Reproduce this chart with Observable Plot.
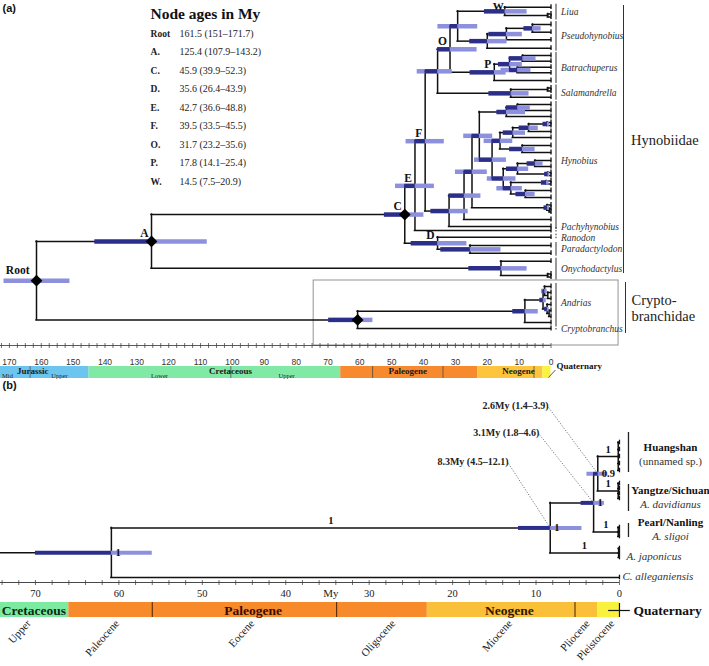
<!DOCTYPE html>
<html><head><meta charset="utf-8">
<script src="https://cdn.jsdelivr.net/npm/d3@7"></script>
<script src="https://cdn.jsdelivr.net/npm/@observablehq/plot@0.6"></script>
<style>
html,body{margin:0;padding:0;background:#fff;}
#chart svg{display:block;}
</style></head><body><div id="chart"></div>
<script>
// ================= DATA : panel (a) =================
const nodeIdA = ["Root","A","Cr","C","On","Oc","E","D","D2","F","N1","O","Nt","W","Lc","Ps","Ps1","Ps2","P","B1","B2","B3","Sal","Sc","H0","H1","H2","E3","E3b","H3","HA","HA1","HB","HC","HC1","HC2","HC3","HC4","HD","HD1","HD2","HD3","HD4","HD5","HD6","J","K","L","L2","N","N2"];
const nodeParentA = [null,"Root","Root","A","A","On","C","C","D","E","F","N1","O","Nt","W","Nt","Ps","Ps1","O","P","B1","B1","N1","Sal","F","H0","H1","H2","E3","H2","H3","HA","H3","HB","HC","HC1","HC2","HC","HB","HD","HD1","HD1","HD","HD4","HD4","Cr","J","K","L","K","N"];
const nodeAgeA = [161.5,125.4,60.7,45.9,15.7,1.0,42.7,35.6,25.4,39.5,35.6,31.7,29.3,14.5,1.0,20,14,5.8,17.8,13,8.9,10.5,12.6,1.0,32,27.3,24.8,1.2,0.5,22.5,14,10.5,18.5,16,12,7,1.2,9,15,10.5,5,1,12.6,1.5,8,8.2,2.5,2,1,1.2,0.6];
const nodeLoA = [151,107.9,55.9,39.9,7.5,null,36.6,26.4,15.7,33.5,31,23.2,23,7.5,null,13.8,9,3.1,14.1,9,4.7,6.3,6.9,null,26,22,20,0.5,null,18.3,8,6.5,14,12,8,4,0.5,5,11,7,2.5,0.4,9,0.6,5,4,1.5,1.2,null,0.6,null];
const nodeHiA = [171.7,143.2,69.8,52.3,25.8,null,48.8,43.9,34.6,45.5,42,35.6,35.5,20.9,null,25.5,19.5,8.5,25.4,16.5,13.2,15.7,19.5,null,37.7,32,30,2.2,null,27.4,17,14,24,21,15,10,2.5,13,20,14,7.5,2,17,3,11,12,3.5,3,null,2,null];
// tips: parent node and leaf position (top to bottom)
const tipParentA = ["W","Lc","Lc","Ps2","Ps2","Ps1","Ps","B2","B2","B3","B3","P","Sc","Sc","Sal","HA1","HA1","HA","HC3","HC3","HC2","HC1","HC4","HC4","HD2","HD2","HD3","HD3","HD5","HD5","HD6","HD6","E3","E3b","E3b","H1","H0","E","D","D2","D2","On","Oc","Oc","L","L2","L2","N","N2","N2","J","Cr"];
const tipPosA = [6.7,13.5,16.5,24,31.7,39.3,47.7,55,60.7,66.7,72.3,80,87.5,90.5,96.7,104,110,116,122,125,131,137,145,152,160,166,172,175,180.5,183.5,190,197,204.5,208,211.5,219,226,230,236.7,245,252.7,260.7,273.5,276.5,286,292,298,304,310,316,322,328];
const diamondNodesA = ["Root","A","C","Cr"];
const nodeLabelsA = ["A","C","D","E","F","O","P"];
// genera
const cladeNameA = ["Liua","Pseudohynobius","Batrachuperus","Salamandrella","Hynobius","Pachyhynobius","Ranodon","Paradactylodon","Onychodactylus","Andrias","Cryptobranchus"];
const cladeFirstA = [6.7,24,55,87.5,104,230,236.7,245,260.7,286,328];
const cladeLastA = [16.5,47.7,80,96.7,226,230,236.7,252.7,276.5,322,328];
const cladeNudgeA = [0,0,0,0,-5,-3.5,1,0,0,-2,0];
// node age table
const tableLabel = ["Root","A.","C.","D.","E.","F.","O.","P.","W."];
const tableAge = [161.5,125.4,45.9,35.6,42.7,39.5,31.7,17.8,14.5];
const tableLo = [151,107.9,39.9,26.4,36.6,33.5,23.2,14.1,7.5];
const tableHi = [171.7,143.2,52.3,43.9,48.8,45.5,35.6,25.4,20.9];
// time axis and geologic scale
const ticksA = [170,160,150,140,130,120,110,100,90,80,70,60,50,40,30,20,10,0];
const periodName = ["Jurassic","Cretaceous","Paleogene","Neogene","Quaternary"];
const periodStart = [175,145,66,23.03,2.58];
const periodEnd = [145,66,23.03,2.58,0];
const periodColorA = ["#6cc5ee","#80e9a5","#f7892e","#fdc53e","#f9f240"];
const periodColorB = ["#7ceaa1","#f78a2b","#fbc03a","#f8f23d"];
const epochBoundA = [163.5,100.5,56,33.9,5.33];
const subLabelA = ["Mid","Upper","Lower","Upper"];
const subLabelAgeA = [170.6,154.3,122.9,83];
const periodLabelAgeA = [162.7,100.6,45,10.2];

// ================= DATA : panel (b) =================
const nodeIdB = ["Rb","n83","n31","n26","Hu","Ya","Pe","Ja"];
const nodeParentB = [null,"Rb","n83","n31","n26","n26","n31","n83"];
const nodeAgeB = [60.9,8.3,3.1,2.6,0.15,0.15,0.15,0.1];
const nodeLoB = [56,4.5,1.8,1.4,null,null,null,null];
const nodeHiB = [70,12.1,4.6,3.9,null,null,null,null];
const nodeSupportB = ["1","1","1","0.9",null,null,null,null];
const branchSupportB = [null,"1",null,null,"1","1","1","1"];
const tipParentB = ["Hu","Hu","Hu","Hu","Hu","Ya","Ya","Ya","Ya","Pe","Pe","Pe","Ja","Ja","Ja","Rb"];
const tipPosB = [442,449,456,463,470,483,488,493,498,527,531.5,536,548,552.5,557,577];
const annText = ["2.6My (1.4–3.9)","3.1My (1.8–4.6)","8.3My (4.5–12.1)"];
const annNode = ["n26","n31","n83"];
const annAge = [8.5,9.6,13.3];
const annRow = [405,432,461];
const ticksB = [70,60,50,40,30,20,10,0];
const epochBoundB = [56,33.9,5.33];
const epochName = ["Upper","Paleocene","Eocene","Oligocene","Miocene","Pliocene","Pleistocene"];
const epochLabelAge = [70.8,60.2,44,27.1,13.1,3.8,0.85];
const periodLabelAgeB = [70.2,43.9,13.2];
const cladeNameB = ["Huangshan","Yangtze/Sichuan","Pearl/Nanling"];
const cladeSubB = ["(unnamed sp.)","A. davidianus","A. sligoi"];
const cladeTopB = [432,484,523];
const cladeBotB = [472,511,537];

// ================= helpers =================
function layoutTree(ids, parents, ages, tipParents, tipPos) {
  const nodes = new Map();
  ids.forEach((id, i) => nodes.set(id, {id, parent: parents[i], age: ages[i], kids: [], tip: false}));
  tipParents.forEach((p, i) => nodes.set("tip" + i, {id: "tip" + i, parent: p, age: 0, kids: [], tip: true, y: tipPos[i]}));
  for (const n of nodes.values()) if (n.parent) nodes.get(n.parent).kids.push(n);
  function setY(n) {
    if (n.tip) return n.y;
    const ys = n.kids.map(setY);
    n.y0 = Math.min(...ys); n.y1 = Math.max(...ys); n.y = (n.y0 + n.y1) / 2;
    return n.y;
  }
  setY([...nodes.values()].find(n => !n.parent));
  return nodes;
}
function treeSegments(nodes, stemAge) {
  const h = [], v = [], tips = [];
  for (const n of nodes.values()) {
    const pAge = n.parent ? nodes.get(n.parent).age : stemAge;
    if (pAge != null) h.push({x1: pAge, x2: n.age, y: n.y});
    if (!n.tip) v.push({x: n.age, y1: n.y0, y2: n.y1});
    else tips.push(n);
  }
  return {h, v, tips};
}
function hpdBars(nodes, ids, lo, hi, stemAge) {
  const dark = [], light = [];
  ids.forEach((id, i) => {
    if (lo[i] == null) return;
    const n = nodes.get(id);
    const pAge = n.parent ? nodes.get(n.parent).age : stemAge;
    if (pAge == null) { light.push({x1: lo[i], x2: hi[i], y: n.y}); return; }
    dark.push({x1: n.age, x2: Math.min(hi[i], pAge), y: n.y});
    light.push({x1: lo[i], x2: n.age, y: n.y});
    if (hi[i] > pAge) light.push({x1: pAge, x2: hi[i], y: n.y});
  });
  return {dark, light};
}
const serif = "Liberation Serif, Times New Roman, serif";
const sans = "Liberation Sans, Arial, sans-serif";
const navy = "#2b2f8a", lav = "#8d90dc";

// ================= PANEL (a) =================
const TA = layoutTree(nodeIdA, nodeParentA, nodeAgeA, tipParentA, tipPosA);
const segA = treeSegments(TA, null);
const barA = hpdBars(TA, nodeIdA, nodeLoA, nodeHiA, null);
const periodsA = periodName.map((name, i) => ({name, start: periodStart[i], end: periodEnd[i], color: periodColorA[i]}));
const cladesA = cladeNameA.map((name, i) => ({name, y1: cladeFirstA[i] - 3, y2: cladeLastA[i] + 3, y: (cladeFirstA[i] + cladeLastA[i]) / 2 + cladeNudgeA[i], single: cladeFirstA[i] === cladeLastA[i]}));
const tableRows = tableLabel.map((l, i) => ({label: l, text: `${tableAge[i]} (${tableLo[i]}–${tableHi[i]})`, row: 33 + i * 18.5}));
const nodeLabA = nodeLabelsA.map(id => ({id, x: TA.get(id).age, y: TA.get(id).y}));
const rootA = TA.get("Root"), wA = TA.get("W");
const TABLE_X = 125.7, TABLE_VX = 116.6;

const plotA = Plot.plot({
  width: 709, height: 380, margin: 0,
  x: {domain: [172.8, -49.75], axis: null},
  y: {domain: [0, 380], range: [0, 380], axis: null},
  color: {type: "identity"},
  marks: [
    // Cryptobranchidae box
    Plot.rect([0], {x1: 74.5, x2: -21.2, y1: 280, y2: 345, fill: "none", stroke: "#888", strokeWidth: 0.9}),
    // geologic scale
    Plot.rect(periodsA, {x1: "start", x2: "end", y1: () => 366, y2: () => 378, fill: d => d.color}),
    Plot.ruleX(epochBoundA, {x: d => d, y1: () => 366, y2: () => 378, stroke: "#444", strokeWidth: 0.7}),
    Plot.text(periodName.slice(0, 4), {x: (d, i) => periodLabelAgeA[i], y: () => 370.5, text: d => d, fontFamily: serif, fontWeight: "bold", fontSize: 9, fill: "#1a1a1a"}),
    Plot.text(subLabelA, {x: (d, i) => subLabelAgeA[i], y: () => 375, text: d => d, fontFamily: serif, fontSize: 6.5, fill: "#222"}),
    Plot.text(["Quaternary"], {x: () => -1.7, y: () => 366, text: d => d, textAnchor: "start", fontFamily: serif, fontWeight: "bold", fontSize: 9, fill: "#111"}),
    Plot.link([0], {x1: () => 0.8, y1: () => 377, x2: () => -1.4, y2: () => 369.5, stroke: "#333", strokeWidth: 0.8}),
    // time axis
    Plot.ruleY([345], {x1: () => 172.8, x2: () => 0, y: d => d, stroke: "#333", strokeWidth: 0.8}),
    Plot.ruleX(d3.range(0, 172.6, 2.5), {x: d => d, y1: () => 343, y2: () => 348, stroke: "#333", strokeWidth: 0.7}),
    Plot.text(ticksA, {x: d => d, y: () => 362, text: d => String(d), fontFamily: sans, fontSize: 8.5, fill: "#333"}),
    // tree
    Plot.ruleY(segA.h, {y: "y", x1: "x1", x2: "x2", stroke: "#111", strokeWidth: 1.5, strokeLinecap: "square"}),
    Plot.ruleX(segA.v, {x: "x", y1: "y1", y2: "y2", stroke: "#111", strokeWidth: 1.5, strokeLinecap: "square"}),
    Plot.ruleX(segA.tips, {x: "age", y1: d => d.y - 2.4, y2: d => d.y + 2.4, stroke: "#111", strokeWidth: 1.3}),
    // HPD bars
    Plot.ruleY(barA.light, {y: "y", x1: "x1", x2: "x2", stroke: lav, strokeWidth: 4.5}),
    Plot.ruleY(barA.dark, {y: "y", x1: "x1", x2: "x2", stroke: navy, strokeWidth: 4.5}),
    // calibration diamonds
    Plot.dot(diamondNodesA.map(id => TA.get(id)), {x: "age", y: "y", symbol: "diamond2", r: 5.3, fill: "#000"}),
    // node labels
    Plot.text(nodeLabA, {x: "x", y: "y", text: "id", textAnchor: "end", dx: -3, dy: -8, fontFamily: serif, fontWeight: "bold", fontSize: 11.5, fill: "#111"}),
    Plot.text([wA], {x: "age", y: "y", text: () => "W", textAnchor: "end", dx: -1, dy: -5, fontFamily: serif, fontWeight: "bold", fontSize: 11, fill: "#111"}),
    Plot.text([rootA], {x: "age", y: "y", text: () => "Root", textAnchor: "end", dx: -7, dy: -10, fontFamily: serif, fontWeight: "bold", fontSize: 11.5, fill: "#111"}),
    // genus brackets and names
    Plot.ruleX(cladesA.filter(d => !d.single), {x: () => 0, dx: 5, y1: "y1", y2: "y2", stroke: "#333", strokeWidth: 1}),
    Plot.ruleX(cladesA.filter(d => d.single), {x: () => 0, dx: 5, y1: "y1", y2: "y2", stroke: "#333", strokeWidth: 1, strokeDasharray: "1.5,1.5"}),
    Plot.text(cladesA, {x: () => 0, dx: 10, y: "y", text: "name", textAnchor: "start", fontFamily: serif, fontStyle: "italic", fontSize: 9.5, fill: "#333"}),
    // families
    Plot.ruleX([0], {x: () => 0, dx: 72.5, y1: () => 5, y2: () => 273, stroke: "#333", strokeWidth: 1}),
    Plot.ruleX([0], {x: () => 0, dx: 74.5, y1: () => 282, y2: () => 333, stroke: "#333", strokeWidth: 1}),
    Plot.text(["Hynobiidae"], {x: () => 0, dx: 80, y: () => 140, text: d => d, textAnchor: "start", fontFamily: serif, fontSize: 14.5, fill: "#222"}),
    Plot.text(["Crypto-", "branchidae"], {x: () => 0, dx: 80.5, y: (d, i) => 300 + i * 16, text: d => d, textAnchor: "start", fontFamily: serif, fontSize: 14.5, fill: "#222"}),
    // node-age table
    Plot.text(["Node ages in My"], {x: () => TABLE_X, y: () => 14, text: d => d, textAnchor: "start", fontFamily: serif, fontWeight: "bold", fontSize: 15.5, fill: "#111"}),
    Plot.text(tableRows, {x: () => TABLE_X, y: "row", text: "label", textAnchor: "start", fontFamily: serif, fontWeight: "bold", fontSize: 9.5, fill: "#222"}),
    Plot.text(tableRows, {x: () => TABLE_VX, y: "row", text: "text", textAnchor: "start", fontFamily: serif, fontSize: 10, fill: "#222"}),
    Plot.text(["(a)"], {x: () => 172.8, dx: 2, y: () => 8, text: d => d, textAnchor: "start", fontFamily: sans, fontWeight: "bold", fontSize: 11, fill: "#111"})
  ]
});

// ================= PANEL (b) =================
const TB = layoutTree(nodeIdB, nodeParentB, nodeAgeB, tipParentB, tipPosB);
const STEM_B = 74.2;
const segB = treeSegments(TB, STEM_B);
const barB = hpdBars(TB, nodeIdB, nodeLoB, nodeHiB, STEM_B);
const periodsB = periodName.slice(1).map((name, i) => ({name, start: i === 0 ? 80 : periodStart[i + 1], end: periodEnd[i + 1], color: periodColorB[i]}));
const nodeSupB = nodeIdB.map((id, i) => ({...TB.get(id), s: nodeSupportB[i]})).filter(d => d.s);
const brSupB = nodeIdB.map((id, i) => {
  const n = TB.get(id), p = TB.get(n.parent || "Rb");
  return {x: (n.age + p.age) / 2, y: n.y, s: branchSupportB[i]};
}).filter(d => d.s);
const anns = annText.map((t, i) => ({t, x: annAge[i], y: annRow[i], nx: TB.get(annNode[i]).age, ny: TB.get(annNode[i]).y}));
const cladeB = cladeNameB.map((a, i) => ({a, b: cladeSubB[i], y1: cladeTopB[i], y2: cladeBotB[i], y: (cladeTopB[i] + cladeBotB[i]) / 2 + (i === 0 ? 3 : 0)}));

const plotB = Plot.plot({
  width: 709, height: 286, margin: 0,
  x: {domain: [74.19, -10.79], axis: null},
  y: {domain: [380, 666], range: [0, 286], axis: null},
  color: {type: "identity"},
  marks: [
    Plot.text(["(b)"], {x: () => 74.19, dx: 2, y: () => 385, text: d => d, textAnchor: "start", fontFamily: sans, fontWeight: "bold", fontSize: 11, fill: "#111"}),
    // geologic scale
    Plot.rect(periodsB, {x1: "start", x2: "end", y1: () => 602, y2: () => 617, fill: d => d.color}),
    Plot.ruleX(epochBoundB, {x: d => d, y1: () => 602, y2: () => 617, stroke: "#4a2000", strokeWidth: 1}),
    Plot.text(periodName.slice(1, 4), {x: (d, i) => periodLabelAgeB[i], y: () => 610, text: d => d, fontFamily: serif, fontWeight: "bold", fontSize: 13.5, fill: (d, i) => ["#0d2a10", "#3a0d00", "#2a1800"][i]}),
    Plot.ruleY([610], {x1: () => 1.3, x2: () => -1.3, y: d => d, stroke: "#111", strokeWidth: 1.2}),
    Plot.ruleX([0], {x: d => d, y1: () => 603, y2: () => 617, stroke: "#111", strokeWidth: 1.2}),
    Plot.text(["Quaternary"], {x: () => -1.68, y: () => 610, text: d => d, textAnchor: "start", fontFamily: serif, fontWeight: "bold", fontSize: 13.5, fill: "#111"}),
    Plot.text(epochName, {x: (d, i) => epochLabelAge[i], y: () => 621, text: d => d, rotate: -48, textAnchor: "end", fontFamily: serif, fontSize: 11, fill: "#222"}),
    // axis
    Plot.ruleY([582], {x1: () => 74.19, x2: () => 0, y: d => d, stroke: "#333", strokeWidth: 0.9}),
    Plot.ruleX(d3.range(0, 74.1, 2), {x: d => d, y1: () => 580, y2: () => 585, stroke: "#333", strokeWidth: 0.7}),
    Plot.text(ticksB, {x: d => d, y: () => 593, text: d => String(d), fontFamily: serif, fontSize: 10.5, fill: "#222"}),
    Plot.text(["My"], {x: () => 34.6, y: () => 592.5, text: d => d, fontFamily: serif, fontSize: 11, fill: "#222"}),
    // tree
    Plot.ruleY(segB.h, {y: "y", x1: "x1", x2: "x2", stroke: "#111", strokeWidth: 1.5, strokeLinecap: "square"}),
    Plot.ruleX(segB.v, {x: "x", y1: "y1", y2: "y2", stroke: "#111", strokeWidth: 1.5, strokeLinecap: "square"}),
    Plot.ruleX(segB.tips, {x: "age", y1: d => d.y - 2.3, y2: d => d.y + 2.3, stroke: "#111", strokeWidth: 1.3}),
    Plot.ruleY(barB.light, {y: "y", x1: "x1", x2: "x2", stroke: lav, strokeWidth: 4}),
    Plot.ruleY(barB.dark, {y: "y", x1: "x1", x2: "x2", stroke: navy, strokeWidth: 4}),
    // supports
    Plot.text(nodeSupB, {x: "age", y: "y", text: "s", dx: 4, textAnchor: "start", fontFamily: serif, fontWeight: "bold", fontSize: 10.5, fill: "#111"}),
    Plot.text(brSupB, {x: "x", y: "y", text: "s", dy: -7, fontFamily: serif, fontWeight: "bold", fontSize: 10.5, fill: "#111"}),
    // annotations
    Plot.link(anns, {x1: "x", y1: d => d.y + 2, x2: "nx", y2: "ny", stroke: "#555", strokeWidth: 0.8, strokeDasharray: "1.2,1.6"}),
    Plot.text(anns, {x: "x", y: "y", text: "t", textAnchor: "end", fontFamily: serif, fontWeight: "bold", fontSize: 10, fill: "#222"}),
    // tip clades
    Plot.ruleX(cladeB, {x: () => 0, dx: 9, y1: "y1", y2: "y2", stroke: "#222", strokeWidth: 1.3}),
    Plot.text(cladeB, {x: () => 0, dx: 51, y: d => d.y - 8, text: "a", fontFamily: serif, fontWeight: "bold", fontSize: 11, fill: "#111"}),
    Plot.text(cladeB.slice(0, 1), {x: () => 0, dx: 51, y: d => d.y + 6, text: "b", fontFamily: serif, fontSize: 11, fill: "#333"}),
    Plot.text(cladeB.slice(1), {x: () => 0, dx: 51, y: d => d.y + 6, text: "b", fontFamily: serif, fontStyle: "italic", fontSize: 11, fill: "#333"}),
    Plot.text(["A. japonicus"], {x: () => 0, dx: 7, y: () => 556, text: d => d, textAnchor: "start", fontFamily: serif, fontStyle: "italic", fontSize: 11, fill: "#333"}),
    Plot.text(["C. alleganiensis"], {x: () => 0, dx: 3, y: () => 576, text: d => d, textAnchor: "start", fontFamily: serif, fontStyle: "italic", fontSize: 11, fill: "#333"})
  ]
});

document.getElementById("chart").append(plotA, plotB);
</script></body></html>
